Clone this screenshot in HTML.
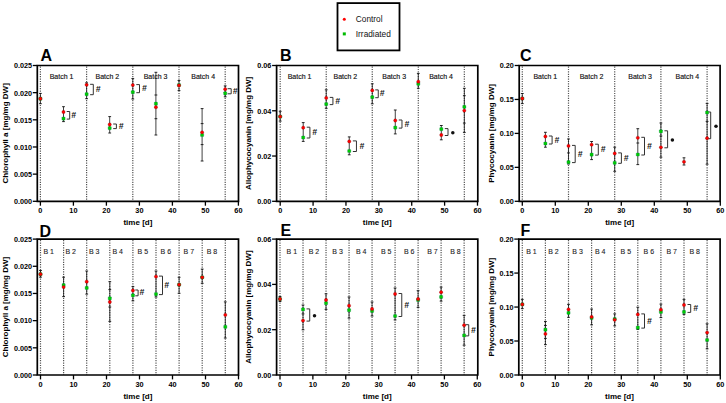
<!DOCTYPE html>
<html><head><meta charset="utf-8"><style>
html,body{margin:0;padding:0;background:#fff;}
svg{display:block;font-family:"Liberation Sans", sans-serif;}
</style></head><body>
<svg width="726" height="403" viewBox="0 0 726 403">
<rect width="726" height="403" fill="#fff"/>
<line x1="40.4" y1="66.5" x2="40.4" y2="201.3" stroke="#555" stroke-width="1.2" stroke-dasharray="1.2 1.2"/>
<line x1="86.6" y1="66.5" x2="86.6" y2="201.3" stroke="#555" stroke-width="1.2" stroke-dasharray="1.2 1.2"/>
<line x1="132.8" y1="66.5" x2="132.8" y2="201.3" stroke="#555" stroke-width="1.2" stroke-dasharray="1.2 1.2"/>
<line x1="179" y1="66.5" x2="179" y2="201.3" stroke="#555" stroke-width="1.2" stroke-dasharray="1.2 1.2"/>
<line x1="225.2" y1="66.5" x2="225.2" y2="201.3" stroke="#555" stroke-width="1.2" stroke-dasharray="1.2 1.2"/>
<text x="61.5" y="78.5" font-size="7" text-anchor="middle" fill="#111" stroke="#111" stroke-width="0.15">Batch 1</text>
<text x="107.4" y="78.5" font-size="7" text-anchor="middle" fill="#111" stroke="#111" stroke-width="0.15">Batch 2</text>
<text x="155.5" y="78.5" font-size="7" text-anchor="middle" fill="#111" stroke="#111" stroke-width="0.15">Batch 3</text>
<text x="203.2" y="78.5" font-size="7" text-anchor="middle" fill="#111" stroke="#111" stroke-width="0.15">Batch 4</text>
<path d="M37.3 65.5 H238.5 V201.3 H37.3 Z" fill="none" stroke="#000" stroke-width="1.7"/>
<line x1="32.8" y1="201.3" x2="37.3" y2="201.3" stroke="#000" stroke-width="1.3"/>
<text transform="translate(32 204.15) scale(0.93 1)" font-size="7.8" font-weight="bold" text-anchor="end">0.000</text>
<line x1="32.8" y1="174.14" x2="37.3" y2="174.14" stroke="#000" stroke-width="1.3"/>
<text transform="translate(32 176.99) scale(0.93 1)" font-size="7.8" font-weight="bold" text-anchor="end">0.005</text>
<line x1="32.8" y1="146.98" x2="37.3" y2="146.98" stroke="#000" stroke-width="1.3"/>
<text transform="translate(32 149.83) scale(0.93 1)" font-size="7.8" font-weight="bold" text-anchor="end">0.010</text>
<line x1="32.8" y1="119.82" x2="37.3" y2="119.82" stroke="#000" stroke-width="1.3"/>
<text transform="translate(32 122.67) scale(0.93 1)" font-size="7.8" font-weight="bold" text-anchor="end">0.015</text>
<line x1="32.8" y1="92.66" x2="37.3" y2="92.66" stroke="#000" stroke-width="1.3"/>
<text transform="translate(32 95.51) scale(0.93 1)" font-size="7.8" font-weight="bold" text-anchor="end">0.020</text>
<line x1="32.8" y1="65.5" x2="37.3" y2="65.5" stroke="#000" stroke-width="1.3"/>
<text transform="translate(32 68.35) scale(0.93 1)" font-size="7.8" font-weight="bold" text-anchor="end">0.025</text>
<line x1="40.4" y1="201.3" x2="40.4" y2="205.7" stroke="#000" stroke-width="1.3"/>
<text transform="translate(40.4 213.3) scale(0.93 1)" font-size="7.9" font-weight="bold" text-anchor="middle">0</text>
<line x1="73.4" y1="201.3" x2="73.4" y2="205.7" stroke="#000" stroke-width="1.3"/>
<text transform="translate(73.4 213.3) scale(0.93 1)" font-size="7.9" font-weight="bold" text-anchor="middle">10</text>
<line x1="106.4" y1="201.3" x2="106.4" y2="205.7" stroke="#000" stroke-width="1.3"/>
<text transform="translate(106.4 213.3) scale(0.93 1)" font-size="7.9" font-weight="bold" text-anchor="middle">20</text>
<line x1="139.4" y1="201.3" x2="139.4" y2="205.7" stroke="#000" stroke-width="1.3"/>
<text transform="translate(139.4 213.3) scale(0.93 1)" font-size="7.9" font-weight="bold" text-anchor="middle">30</text>
<line x1="172.4" y1="201.3" x2="172.4" y2="205.7" stroke="#000" stroke-width="1.3"/>
<text transform="translate(172.4 213.3) scale(0.93 1)" font-size="7.9" font-weight="bold" text-anchor="middle">40</text>
<line x1="205.4" y1="201.3" x2="205.4" y2="205.7" stroke="#000" stroke-width="1.3"/>
<text transform="translate(205.4 213.3) scale(0.93 1)" font-size="7.9" font-weight="bold" text-anchor="middle">50</text>
<line x1="238.4" y1="201.3" x2="238.4" y2="205.7" stroke="#000" stroke-width="1.3"/>
<text transform="translate(238.4 213.3) scale(0.93 1)" font-size="7.9" font-weight="bold" text-anchor="middle">60</text>
<text x="137.9" y="225.4" font-size="8" font-weight="bold" text-anchor="middle">time [d]</text>
<text transform="translate(8 133.4) rotate(-90)" font-size="8" font-weight="bold" text-anchor="middle">Chlorophyll a [mg/mg DW]</text>
<text x="40.5" y="61" font-size="16" font-weight="bold">A</text>
<line x1="40.4" y1="93.4" x2="40.4" y2="103.7" stroke="#111" stroke-width="0.8"/>
<line x1="39" y1="93.4" x2="41.8" y2="93.4" stroke="#111" stroke-width="0.9"/>
<line x1="39" y1="103.7" x2="41.8" y2="103.7" stroke="#111" stroke-width="0.9"/>
<rect x="38.8" y="97.1" width="3.2" height="3.2" rx="0.6" fill="#0c0" stroke="#075" stroke-width="0.3"/>
<circle cx="40.4" cy="98.7" r="1.65" fill="#f00" stroke="#700" stroke-width="0.3"/>
<line x1="63.5" y1="106.7" x2="63.5" y2="121.6" stroke="#111" stroke-width="0.8"/>
<line x1="62.1" y1="106.7" x2="64.9" y2="106.7" stroke="#111" stroke-width="0.9"/>
<line x1="62.1" y1="121.6" x2="64.9" y2="121.6" stroke="#111" stroke-width="0.9"/>
<rect x="61.9" y="117" width="3.2" height="3.2" rx="0.6" fill="#0c0" stroke="#075" stroke-width="0.3"/>
<circle cx="63.5" cy="112" r="1.65" fill="#f00" stroke="#700" stroke-width="0.3"/>
<path d="M66.7 111.5 H69.7 V119.1 H66.7" fill="none" stroke="#333" stroke-width="1.0"/>
<text x="73.7" y="117.8" font-size="8.5" font-weight="bold" font-style="italic" fill="#111" text-anchor="middle">#</text>
<line x1="86.6" y1="82.8" x2="86.6" y2="98.7" stroke="#111" stroke-width="0.8"/>
<line x1="85.2" y1="82.8" x2="88" y2="82.8" stroke="#111" stroke-width="0.9"/>
<line x1="85.2" y1="98.7" x2="88" y2="98.7" stroke="#111" stroke-width="0.9"/>
<rect x="85" y="92.6" width="3.2" height="3.2" rx="0.6" fill="#0c0" stroke="#075" stroke-width="0.3"/>
<circle cx="86.6" cy="84.8" r="1.65" fill="#f00" stroke="#700" stroke-width="0.3"/>
<path d="M90.1 84.3 H93.3 V94.7 H90.1" fill="none" stroke="#333" stroke-width="1.0"/>
<text x="98.1" y="92" font-size="8.5" font-weight="bold" font-style="italic" fill="#111" text-anchor="middle">#</text>
<line x1="109.7" y1="116.6" x2="109.7" y2="133" stroke="#111" stroke-width="0.8"/>
<line x1="108.3" y1="116.6" x2="111.1" y2="116.6" stroke="#111" stroke-width="0.9"/>
<line x1="108.3" y1="133" x2="111.1" y2="133" stroke="#111" stroke-width="0.9"/>
<rect x="108.1" y="126.5" width="3.2" height="3.2" rx="0.6" fill="#0c0" stroke="#075" stroke-width="0.3"/>
<circle cx="109.7" cy="124.5" r="1.65" fill="#f00" stroke="#700" stroke-width="0.3"/>
<path d="M113.2 124 H116.4 V128.6 H113.2" fill="none" stroke="#333" stroke-width="1.0"/>
<text x="121.2" y="128.8" font-size="8.5" font-weight="bold" font-style="italic" fill="#111" text-anchor="middle">#</text>
<line x1="132.8" y1="78.6" x2="132.8" y2="99" stroke="#111" stroke-width="0.8"/>
<line x1="131.4" y1="78.6" x2="134.2" y2="78.6" stroke="#111" stroke-width="0.9"/>
<line x1="131.4" y1="99" x2="134.2" y2="99" stroke="#111" stroke-width="0.9"/>
<rect x="131.2" y="90.6" width="3.2" height="3.2" rx="0.6" fill="#0c0" stroke="#075" stroke-width="0.3"/>
<circle cx="132.8" cy="85.1" r="1.65" fill="#f00" stroke="#700" stroke-width="0.3"/>
<path d="M136.3 84.6 H139.5 V92.7 H136.3" fill="none" stroke="#333" stroke-width="1.0"/>
<text x="144.3" y="91.15" font-size="8.5" font-weight="bold" font-style="italic" fill="#111" text-anchor="middle">#</text>
<line x1="155.9" y1="72.3" x2="155.9" y2="135" stroke="#111" stroke-width="0.8"/>
<line x1="154.5" y1="72.3" x2="157.3" y2="72.3" stroke="#111" stroke-width="0.9"/>
<line x1="154.5" y1="135" x2="157.3" y2="135" stroke="#111" stroke-width="0.9"/>
<line x1="154.5" y1="95" x2="157.3" y2="95" stroke="#111" stroke-width="0.9"/>
<line x1="154.5" y1="118.7" x2="157.3" y2="118.7" stroke="#111" stroke-width="0.9"/>
<rect x="154.3" y="102.1" width="3.2" height="3.2" rx="0.6" fill="#0c0" stroke="#075" stroke-width="0.3"/>
<circle cx="155.9" cy="107.2" r="1.65" fill="#f00" stroke="#700" stroke-width="0.3"/>
<line x1="179" y1="80.5" x2="179" y2="90.6" stroke="#111" stroke-width="0.8"/>
<line x1="177.6" y1="80.5" x2="180.4" y2="80.5" stroke="#111" stroke-width="0.9"/>
<line x1="177.6" y1="90.6" x2="180.4" y2="90.6" stroke="#111" stroke-width="0.9"/>
<rect x="177.4" y="83.4" width="3.2" height="3.2" rx="0.6" fill="#0c0" stroke="#075" stroke-width="0.3"/>
<circle cx="179" cy="85.4" r="1.65" fill="#f00" stroke="#700" stroke-width="0.3"/>
<line x1="202.1" y1="108.6" x2="202.1" y2="161" stroke="#111" stroke-width="0.8"/>
<line x1="200.7" y1="108.6" x2="203.5" y2="108.6" stroke="#111" stroke-width="0.9"/>
<line x1="200.7" y1="161" x2="203.5" y2="161" stroke="#111" stroke-width="0.9"/>
<line x1="200.7" y1="123.6" x2="203.5" y2="123.6" stroke="#111" stroke-width="0.9"/>
<line x1="200.7" y1="144.6" x2="203.5" y2="144.6" stroke="#111" stroke-width="0.9"/>
<rect x="200.5" y="133.4" width="3.2" height="3.2" rx="0.6" fill="#0c0" stroke="#075" stroke-width="0.3"/>
<circle cx="202.1" cy="132.3" r="1.65" fill="#f00" stroke="#700" stroke-width="0.3"/>
<line x1="225.2" y1="85.9" x2="225.2" y2="96.8" stroke="#111" stroke-width="0.8"/>
<line x1="223.8" y1="85.9" x2="226.6" y2="85.9" stroke="#111" stroke-width="0.9"/>
<line x1="223.8" y1="96.8" x2="226.6" y2="96.8" stroke="#111" stroke-width="0.9"/>
<rect x="223.6" y="91.7" width="3.2" height="3.2" rx="0.6" fill="#0c0" stroke="#075" stroke-width="0.3"/>
<circle cx="225.2" cy="89.2" r="1.65" fill="#f00" stroke="#700" stroke-width="0.3"/>
<path d="M227.6 88.7 H231.2 V93.8 H227.6" fill="none" stroke="#333" stroke-width="1.0"/>
<text x="235" y="93.75" font-size="8.5" font-weight="bold" font-style="italic" fill="#111" text-anchor="middle">#</text>
<line x1="280.2" y1="66.5" x2="280.2" y2="201.3" stroke="#555" stroke-width="1.2" stroke-dasharray="1.2 1.2"/>
<line x1="326.23" y1="66.5" x2="326.23" y2="201.3" stroke="#555" stroke-width="1.2" stroke-dasharray="1.2 1.2"/>
<line x1="372.26" y1="66.5" x2="372.26" y2="201.3" stroke="#555" stroke-width="1.2" stroke-dasharray="1.2 1.2"/>
<line x1="418.3" y1="66.5" x2="418.3" y2="201.3" stroke="#555" stroke-width="1.2" stroke-dasharray="1.2 1.2"/>
<line x1="464.33" y1="66.5" x2="464.33" y2="201.3" stroke="#555" stroke-width="1.2" stroke-dasharray="1.2 1.2"/>
<text x="299.5" y="78.5" font-size="7" text-anchor="middle" fill="#111" stroke="#111" stroke-width="0.15">Batch 1</text>
<text x="345.4" y="78.5" font-size="7" text-anchor="middle" fill="#111" stroke="#111" stroke-width="0.15">Batch 2</text>
<text x="394.2" y="78.5" font-size="7" text-anchor="middle" fill="#111" stroke="#111" stroke-width="0.15">Batch 3</text>
<text x="441" y="78.5" font-size="7" text-anchor="middle" fill="#111" stroke="#111" stroke-width="0.15">Batch 4</text>
<path d="M276.6 65.5 H477.8 V201.3 H276.6 Z" fill="none" stroke="#000" stroke-width="1.7"/>
<line x1="272.1" y1="201.3" x2="276.6" y2="201.3" stroke="#000" stroke-width="1.3"/>
<text transform="translate(271.3 204.15) scale(0.93 1)" font-size="7.8" font-weight="bold" text-anchor="end">0.00</text>
<line x1="272.1" y1="156.03" x2="276.6" y2="156.03" stroke="#000" stroke-width="1.3"/>
<text transform="translate(271.3 158.88) scale(0.93 1)" font-size="7.8" font-weight="bold" text-anchor="end">0.02</text>
<line x1="272.1" y1="110.77" x2="276.6" y2="110.77" stroke="#000" stroke-width="1.3"/>
<text transform="translate(271.3 113.62) scale(0.93 1)" font-size="7.8" font-weight="bold" text-anchor="end">0.04</text>
<line x1="272.1" y1="65.5" x2="276.6" y2="65.5" stroke="#000" stroke-width="1.3"/>
<text transform="translate(271.3 68.35) scale(0.93 1)" font-size="7.8" font-weight="bold" text-anchor="end">0.06</text>
<line x1="280.2" y1="201.3" x2="280.2" y2="205.7" stroke="#000" stroke-width="1.3"/>
<text transform="translate(280.2 213.3) scale(0.93 1)" font-size="7.9" font-weight="bold" text-anchor="middle">0</text>
<line x1="313.08" y1="201.3" x2="313.08" y2="205.7" stroke="#000" stroke-width="1.3"/>
<text transform="translate(313.08 213.3) scale(0.93 1)" font-size="7.9" font-weight="bold" text-anchor="middle">10</text>
<line x1="345.96" y1="201.3" x2="345.96" y2="205.7" stroke="#000" stroke-width="1.3"/>
<text transform="translate(345.96 213.3) scale(0.93 1)" font-size="7.9" font-weight="bold" text-anchor="middle">20</text>
<line x1="378.84" y1="201.3" x2="378.84" y2="205.7" stroke="#000" stroke-width="1.3"/>
<text transform="translate(378.84 213.3) scale(0.93 1)" font-size="7.9" font-weight="bold" text-anchor="middle">30</text>
<line x1="411.72" y1="201.3" x2="411.72" y2="205.7" stroke="#000" stroke-width="1.3"/>
<text transform="translate(411.72 213.3) scale(0.93 1)" font-size="7.9" font-weight="bold" text-anchor="middle">40</text>
<line x1="444.6" y1="201.3" x2="444.6" y2="205.7" stroke="#000" stroke-width="1.3"/>
<text transform="translate(444.6 213.3) scale(0.93 1)" font-size="7.9" font-weight="bold" text-anchor="middle">50</text>
<line x1="477.48" y1="201.3" x2="477.48" y2="205.7" stroke="#000" stroke-width="1.3"/>
<text transform="translate(477.48 213.3) scale(0.93 1)" font-size="7.9" font-weight="bold" text-anchor="middle">60</text>
<text x="377.2" y="225.4" font-size="8" font-weight="bold" text-anchor="middle">time [d]</text>
<text transform="translate(251.3 133.4) rotate(-90)" font-size="8" font-weight="bold" text-anchor="middle">Allophycocyanin [mg/mg DW]</text>
<text x="279.9" y="60.5" font-size="16" font-weight="bold">B</text>
<line x1="280.2" y1="111.3" x2="280.2" y2="121.1" stroke="#111" stroke-width="0.8"/>
<line x1="278.8" y1="111.3" x2="281.6" y2="111.3" stroke="#111" stroke-width="0.9"/>
<line x1="278.8" y1="121.1" x2="281.6" y2="121.1" stroke="#111" stroke-width="0.9"/>
<rect x="278.6" y="115" width="3.2" height="3.2" rx="0.6" fill="#0c0" stroke="#075" stroke-width="0.3"/>
<circle cx="280.2" cy="116.6" r="1.65" fill="#f00" stroke="#700" stroke-width="0.3"/>
<line x1="303.22" y1="122.6" x2="303.22" y2="141.4" stroke="#111" stroke-width="0.8"/>
<line x1="301.82" y1="122.6" x2="304.62" y2="122.6" stroke="#111" stroke-width="0.9"/>
<line x1="301.82" y1="141.4" x2="304.62" y2="141.4" stroke="#111" stroke-width="0.9"/>
<rect x="301.62" y="135.9" width="3.2" height="3.2" rx="0.6" fill="#0c0" stroke="#075" stroke-width="0.3"/>
<circle cx="303.22" cy="127.7" r="1.65" fill="#f00" stroke="#700" stroke-width="0.3"/>
<path d="M306.72 127.2 H309.92 V138 H306.72" fill="none" stroke="#333" stroke-width="1.0"/>
<text x="314.72" y="135.1" font-size="8.5" font-weight="bold" font-style="italic" fill="#111" text-anchor="middle">#</text>
<line x1="326.23" y1="89.8" x2="326.23" y2="108.3" stroke="#111" stroke-width="0.8"/>
<line x1="324.83" y1="89.8" x2="327.63" y2="89.8" stroke="#111" stroke-width="0.9"/>
<line x1="324.83" y1="108.3" x2="327.63" y2="108.3" stroke="#111" stroke-width="0.9"/>
<rect x="324.63" y="102.5" width="3.2" height="3.2" rx="0.6" fill="#0c0" stroke="#075" stroke-width="0.3"/>
<circle cx="326.23" cy="97.9" r="1.65" fill="#f00" stroke="#700" stroke-width="0.3"/>
<path d="M329.73 97.4 H332.93 V104.6 H329.73" fill="none" stroke="#333" stroke-width="1.0"/>
<text x="337.73" y="103.5" font-size="8.5" font-weight="bold" font-style="italic" fill="#111" text-anchor="middle">#</text>
<line x1="349.25" y1="136.9" x2="349.25" y2="154.8" stroke="#111" stroke-width="0.8"/>
<line x1="347.85" y1="136.9" x2="350.65" y2="136.9" stroke="#111" stroke-width="0.9"/>
<line x1="347.85" y1="154.8" x2="350.65" y2="154.8" stroke="#111" stroke-width="0.9"/>
<rect x="347.65" y="149.4" width="3.2" height="3.2" rx="0.6" fill="#0c0" stroke="#075" stroke-width="0.3"/>
<circle cx="349.25" cy="141.4" r="1.65" fill="#f00" stroke="#700" stroke-width="0.3"/>
<path d="M352.85 140.9 H356.45 V151.5 H352.85" fill="none" stroke="#333" stroke-width="1.0"/>
<text x="361.75" y="148.7" font-size="8.5" font-weight="bold" font-style="italic" fill="#111" text-anchor="middle">#</text>
<line x1="372.26" y1="83.8" x2="372.26" y2="103.8" stroke="#111" stroke-width="0.8"/>
<line x1="370.86" y1="83.8" x2="373.66" y2="83.8" stroke="#111" stroke-width="0.9"/>
<line x1="370.86" y1="103.8" x2="373.66" y2="103.8" stroke="#111" stroke-width="0.9"/>
<rect x="370.66" y="95.6" width="3.2" height="3.2" rx="0.6" fill="#0c0" stroke="#075" stroke-width="0.3"/>
<circle cx="372.26" cy="90.4" r="1.65" fill="#f00" stroke="#700" stroke-width="0.3"/>
<path d="M375.26 89.9 H378.26 V97.7 H375.26" fill="none" stroke="#333" stroke-width="1.0"/>
<text x="382.06" y="96.3" font-size="8.5" font-weight="bold" font-style="italic" fill="#111" text-anchor="middle">#</text>
<line x1="395.28" y1="110" x2="395.28" y2="133.9" stroke="#111" stroke-width="0.8"/>
<line x1="393.88" y1="110" x2="396.68" y2="110" stroke="#111" stroke-width="0.9"/>
<line x1="393.88" y1="133.9" x2="396.68" y2="133.9" stroke="#111" stroke-width="0.9"/>
<rect x="393.68" y="126" width="3.2" height="3.2" rx="0.6" fill="#0c0" stroke="#075" stroke-width="0.3"/>
<circle cx="395.28" cy="120.5" r="1.65" fill="#f00" stroke="#700" stroke-width="0.3"/>
<path d="M398.78 120 H401.98 V128.1 H398.78" fill="none" stroke="#333" stroke-width="1.0"/>
<text x="406.78" y="126.55" font-size="8.5" font-weight="bold" font-style="italic" fill="#111" text-anchor="middle">#</text>
<line x1="418.3" y1="73.4" x2="418.3" y2="88.3" stroke="#111" stroke-width="0.8"/>
<line x1="416.9" y1="73.4" x2="419.7" y2="73.4" stroke="#111" stroke-width="0.9"/>
<line x1="416.9" y1="88.3" x2="419.7" y2="88.3" stroke="#111" stroke-width="0.9"/>
<rect x="416.7" y="82.2" width="3.2" height="3.2" rx="0.6" fill="#0c0" stroke="#075" stroke-width="0.3"/>
<circle cx="418.3" cy="81.7" r="1.65" fill="#f00" stroke="#700" stroke-width="0.3"/>
<line x1="441.31" y1="125.5" x2="441.31" y2="139.8" stroke="#111" stroke-width="0.8"/>
<line x1="439.91" y1="125.5" x2="442.71" y2="125.5" stroke="#111" stroke-width="0.9"/>
<line x1="439.91" y1="139.8" x2="442.71" y2="139.8" stroke="#111" stroke-width="0.9"/>
<rect x="439.71" y="127.5" width="3.2" height="3.2" rx="0.6" fill="#0c0" stroke="#075" stroke-width="0.3"/>
<circle cx="441.31" cy="135" r="1.65" fill="#f00" stroke="#700" stroke-width="0.3"/>
<path d="M444.81 128.6 H448.01 V135.5 H444.81" fill="none" stroke="#333" stroke-width="1.0"/>
<circle cx="452.81" cy="132.85" r="1.75" fill="#111"/>
<line x1="464.33" y1="88.3" x2="464.33" y2="132.4" stroke="#111" stroke-width="0.8"/>
<line x1="462.93" y1="88.3" x2="465.73" y2="88.3" stroke="#111" stroke-width="0.9"/>
<line x1="462.93" y1="132.4" x2="465.73" y2="132.4" stroke="#111" stroke-width="0.9"/>
<line x1="462.93" y1="95.7" x2="465.73" y2="95.7" stroke="#111" stroke-width="0.9"/>
<line x1="462.93" y1="123.1" x2="465.73" y2="123.1" stroke="#111" stroke-width="0.9"/>
<rect x="462.73" y="105.2" width="3.2" height="3.2" rx="0.6" fill="#0c0" stroke="#075" stroke-width="0.3"/>
<circle cx="464.33" cy="110.6" r="1.65" fill="#f00" stroke="#700" stroke-width="0.3"/>
<line x1="522.3" y1="66.5" x2="522.3" y2="201.3" stroke="#555" stroke-width="1.2" stroke-dasharray="1.2 1.2"/>
<line x1="568.5" y1="66.5" x2="568.5" y2="201.3" stroke="#555" stroke-width="1.2" stroke-dasharray="1.2 1.2"/>
<line x1="614.7" y1="66.5" x2="614.7" y2="201.3" stroke="#555" stroke-width="1.2" stroke-dasharray="1.2 1.2"/>
<line x1="660.9" y1="66.5" x2="660.9" y2="201.3" stroke="#555" stroke-width="1.2" stroke-dasharray="1.2 1.2"/>
<line x1="707.1" y1="66.5" x2="707.1" y2="201.3" stroke="#555" stroke-width="1.2" stroke-dasharray="1.2 1.2"/>
<text x="545.3" y="78.5" font-size="7" text-anchor="middle" fill="#111" stroke="#111" stroke-width="0.15">Batch 1</text>
<text x="591.5" y="78.5" font-size="7" text-anchor="middle" fill="#111" stroke="#111" stroke-width="0.15">Batch 2</text>
<text x="640.1" y="78.5" font-size="7" text-anchor="middle" fill="#111" stroke="#111" stroke-width="0.15">Batch 3</text>
<text x="687.4" y="78.5" font-size="7" text-anchor="middle" fill="#111" stroke="#111" stroke-width="0.15">Batch 4</text>
<path d="M519.2 65.5 H720.1 V201.3 H519.2 Z" fill="none" stroke="#000" stroke-width="1.7"/>
<line x1="514.7" y1="201.3" x2="519.2" y2="201.3" stroke="#000" stroke-width="1.3"/>
<text transform="translate(513.9 204.15) scale(0.93 1)" font-size="7.8" font-weight="bold" text-anchor="end">0.00</text>
<line x1="514.7" y1="167.35" x2="519.2" y2="167.35" stroke="#000" stroke-width="1.3"/>
<text transform="translate(513.9 170.2) scale(0.93 1)" font-size="7.8" font-weight="bold" text-anchor="end">0.05</text>
<line x1="514.7" y1="133.4" x2="519.2" y2="133.4" stroke="#000" stroke-width="1.3"/>
<text transform="translate(513.9 136.25) scale(0.93 1)" font-size="7.8" font-weight="bold" text-anchor="end">0.10</text>
<line x1="514.7" y1="99.45" x2="519.2" y2="99.45" stroke="#000" stroke-width="1.3"/>
<text transform="translate(513.9 102.3) scale(0.93 1)" font-size="7.8" font-weight="bold" text-anchor="end">0.15</text>
<line x1="514.7" y1="65.5" x2="519.2" y2="65.5" stroke="#000" stroke-width="1.3"/>
<text transform="translate(513.9 68.35) scale(0.93 1)" font-size="7.8" font-weight="bold" text-anchor="end">0.20</text>
<line x1="522.3" y1="201.3" x2="522.3" y2="205.7" stroke="#000" stroke-width="1.3"/>
<text transform="translate(522.3 213.3) scale(0.93 1)" font-size="7.9" font-weight="bold" text-anchor="middle">0</text>
<line x1="555.3" y1="201.3" x2="555.3" y2="205.7" stroke="#000" stroke-width="1.3"/>
<text transform="translate(555.3 213.3) scale(0.93 1)" font-size="7.9" font-weight="bold" text-anchor="middle">10</text>
<line x1="588.3" y1="201.3" x2="588.3" y2="205.7" stroke="#000" stroke-width="1.3"/>
<text transform="translate(588.3 213.3) scale(0.93 1)" font-size="7.9" font-weight="bold" text-anchor="middle">20</text>
<line x1="621.3" y1="201.3" x2="621.3" y2="205.7" stroke="#000" stroke-width="1.3"/>
<text transform="translate(621.3 213.3) scale(0.93 1)" font-size="7.9" font-weight="bold" text-anchor="middle">30</text>
<line x1="654.3" y1="201.3" x2="654.3" y2="205.7" stroke="#000" stroke-width="1.3"/>
<text transform="translate(654.3 213.3) scale(0.93 1)" font-size="7.9" font-weight="bold" text-anchor="middle">40</text>
<line x1="687.3" y1="201.3" x2="687.3" y2="205.7" stroke="#000" stroke-width="1.3"/>
<text transform="translate(687.3 213.3) scale(0.93 1)" font-size="7.9" font-weight="bold" text-anchor="middle">50</text>
<line x1="720.3" y1="201.3" x2="720.3" y2="205.7" stroke="#000" stroke-width="1.3"/>
<text transform="translate(720.3 213.3) scale(0.93 1)" font-size="7.9" font-weight="bold" text-anchor="middle">60</text>
<text x="619.65" y="225.4" font-size="8" font-weight="bold" text-anchor="middle">time [d]</text>
<text transform="translate(493.5 133.4) rotate(-90)" font-size="8" font-weight="bold" text-anchor="middle">Phycocyanin [mg/mg DW]</text>
<text x="520" y="61" font-size="16" font-weight="bold">C</text>
<line x1="522.3" y1="93.5" x2="522.3" y2="103.6" stroke="#111" stroke-width="0.8"/>
<line x1="520.9" y1="93.5" x2="523.7" y2="93.5" stroke="#111" stroke-width="0.9"/>
<line x1="520.9" y1="103.6" x2="523.7" y2="103.6" stroke="#111" stroke-width="0.9"/>
<rect x="520.7" y="96.9" width="3.2" height="3.2" rx="0.6" fill="#0c0" stroke="#075" stroke-width="0.3"/>
<circle cx="522.3" cy="98.5" r="1.65" fill="#f00" stroke="#700" stroke-width="0.3"/>
<line x1="545.4" y1="132.3" x2="545.4" y2="147.2" stroke="#111" stroke-width="0.8"/>
<line x1="544" y1="132.3" x2="546.8" y2="132.3" stroke="#111" stroke-width="0.9"/>
<line x1="544" y1="147.2" x2="546.8" y2="147.2" stroke="#111" stroke-width="0.9"/>
<rect x="543.8" y="141.9" width="3.2" height="3.2" rx="0.6" fill="#0c0" stroke="#075" stroke-width="0.3"/>
<circle cx="545.4" cy="136.5" r="1.65" fill="#f00" stroke="#700" stroke-width="0.3"/>
<path d="M548.9 136 H552.1 V144 H548.9" fill="none" stroke="#333" stroke-width="1.0"/>
<text x="556.9" y="142.5" font-size="8.5" font-weight="bold" font-style="italic" fill="#111" text-anchor="middle">#</text>
<line x1="568.5" y1="139" x2="568.5" y2="164" stroke="#111" stroke-width="0.8"/>
<line x1="567.1" y1="139" x2="569.9" y2="139" stroke="#111" stroke-width="0.9"/>
<line x1="567.1" y1="164" x2="569.9" y2="164" stroke="#111" stroke-width="0.9"/>
<line x1="567.1" y1="152.9" x2="569.9" y2="152.9" stroke="#111" stroke-width="0.9"/>
<rect x="566.9" y="160.5" width="3.2" height="3.2" rx="0.6" fill="#0c0" stroke="#075" stroke-width="0.3"/>
<circle cx="568.5" cy="145.9" r="1.65" fill="#f00" stroke="#700" stroke-width="0.3"/>
<path d="M572 145.4 H575.2 V162.6 H572" fill="none" stroke="#333" stroke-width="1.0"/>
<text x="580" y="156.5" font-size="8.5" font-weight="bold" font-style="italic" fill="#111" text-anchor="middle">#</text>
<line x1="591.6" y1="141.5" x2="591.6" y2="159.6" stroke="#111" stroke-width="0.8"/>
<line x1="590.2" y1="141.5" x2="593" y2="141.5" stroke="#111" stroke-width="0.9"/>
<line x1="590.2" y1="159.6" x2="593" y2="159.6" stroke="#111" stroke-width="0.9"/>
<rect x="590" y="153" width="3.2" height="3.2" rx="0.6" fill="#0c0" stroke="#075" stroke-width="0.3"/>
<circle cx="591.6" cy="144.7" r="1.65" fill="#f00" stroke="#700" stroke-width="0.3"/>
<path d="M595.1 144.2 H598.3 V155.1 H595.1" fill="none" stroke="#333" stroke-width="1.0"/>
<text x="603.1" y="152.15" font-size="8.5" font-weight="bold" font-style="italic" fill="#111" text-anchor="middle">#</text>
<line x1="614.7" y1="147.2" x2="614.7" y2="171.3" stroke="#111" stroke-width="0.8"/>
<line x1="613.3" y1="147.2" x2="616.1" y2="147.2" stroke="#111" stroke-width="0.9"/>
<line x1="613.3" y1="171.3" x2="616.1" y2="171.3" stroke="#111" stroke-width="0.9"/>
<rect x="613.1" y="161.2" width="3.2" height="3.2" rx="0.6" fill="#0c0" stroke="#075" stroke-width="0.3"/>
<circle cx="614.7" cy="153.4" r="1.65" fill="#f00" stroke="#700" stroke-width="0.3"/>
<path d="M618.2 152.9 H621.4 V163.3 H618.2" fill="none" stroke="#333" stroke-width="1.0"/>
<text x="626.2" y="160.6" font-size="8.5" font-weight="bold" font-style="italic" fill="#111" text-anchor="middle">#</text>
<line x1="637.8" y1="128.7" x2="637.8" y2="164.6" stroke="#111" stroke-width="0.8"/>
<line x1="636.4" y1="128.7" x2="639.2" y2="128.7" stroke="#111" stroke-width="0.9"/>
<line x1="636.4" y1="164.6" x2="639.2" y2="164.6" stroke="#111" stroke-width="0.9"/>
<line x1="636.4" y1="143" x2="639.2" y2="143" stroke="#111" stroke-width="0.9"/>
<rect x="636.2" y="152.9" width="3.2" height="3.2" rx="0.6" fill="#0c0" stroke="#075" stroke-width="0.3"/>
<circle cx="637.8" cy="137.8" r="1.65" fill="#f00" stroke="#700" stroke-width="0.3"/>
<path d="M641.3 137.3 H644.5 V155 H641.3" fill="none" stroke="#333" stroke-width="1.0"/>
<text x="649.3" y="148.65" font-size="8.5" font-weight="bold" font-style="italic" fill="#111" text-anchor="middle">#</text>
<line x1="660.9" y1="123" x2="660.9" y2="157.2" stroke="#111" stroke-width="0.8"/>
<line x1="659.5" y1="123" x2="662.3" y2="123" stroke="#111" stroke-width="0.9"/>
<line x1="659.5" y1="157.2" x2="662.3" y2="157.2" stroke="#111" stroke-width="0.9"/>
<line x1="659.5" y1="136" x2="662.3" y2="136" stroke="#111" stroke-width="0.9"/>
<rect x="659.3" y="129.7" width="3.2" height="3.2" rx="0.6" fill="#0c0" stroke="#075" stroke-width="0.3"/>
<circle cx="660.9" cy="147.3" r="1.65" fill="#f00" stroke="#700" stroke-width="0.3"/>
<path d="M664.4 130.8 H667.6 V147.8 H664.4" fill="none" stroke="#333" stroke-width="1.0"/>
<circle cx="672.4" cy="140.1" r="1.75" fill="#111"/>
<line x1="684" y1="157.8" x2="684" y2="165" stroke="#111" stroke-width="0.8"/>
<line x1="682.6" y1="157.8" x2="685.4" y2="157.8" stroke="#111" stroke-width="0.9"/>
<line x1="682.6" y1="165" x2="685.4" y2="165" stroke="#111" stroke-width="0.9"/>
<circle cx="684" cy="161.8" r="1.65" fill="#f00" stroke="#700" stroke-width="0.3"/>
<line x1="707.1" y1="103.4" x2="707.1" y2="164.2" stroke="#111" stroke-width="0.8"/>
<line x1="705.7" y1="103.4" x2="708.5" y2="103.4" stroke="#111" stroke-width="0.9"/>
<line x1="705.7" y1="164.2" x2="708.5" y2="164.2" stroke="#111" stroke-width="0.9"/>
<line x1="705.7" y1="121.4" x2="708.5" y2="121.4" stroke="#111" stroke-width="0.9"/>
<rect x="705.5" y="110.9" width="3.2" height="3.2" rx="0.6" fill="#0c0" stroke="#075" stroke-width="0.3"/>
<circle cx="707.1" cy="138.2" r="1.65" fill="#f00" stroke="#700" stroke-width="0.3"/>
<path d="M708.6 112 H710.7 V138.7 H708.6" fill="none" stroke="#333" stroke-width="1.0"/>
<circle cx="716" cy="126.15" r="1.75" fill="#111"/>
<line x1="40.5" y1="240.1" x2="40.5" y2="375" stroke="#555" stroke-width="1.2" stroke-dasharray="1.2 1.2"/>
<line x1="63.6" y1="240.1" x2="63.6" y2="375" stroke="#555" stroke-width="1.2" stroke-dasharray="1.2 1.2"/>
<line x1="86.7" y1="240.1" x2="86.7" y2="375" stroke="#555" stroke-width="1.2" stroke-dasharray="1.2 1.2"/>
<line x1="109.8" y1="240.1" x2="109.8" y2="375" stroke="#555" stroke-width="1.2" stroke-dasharray="1.2 1.2"/>
<line x1="132.9" y1="240.1" x2="132.9" y2="375" stroke="#555" stroke-width="1.2" stroke-dasharray="1.2 1.2"/>
<line x1="156" y1="240.1" x2="156" y2="375" stroke="#555" stroke-width="1.2" stroke-dasharray="1.2 1.2"/>
<line x1="179.1" y1="240.1" x2="179.1" y2="375" stroke="#555" stroke-width="1.2" stroke-dasharray="1.2 1.2"/>
<line x1="202.2" y1="240.1" x2="202.2" y2="375" stroke="#555" stroke-width="1.2" stroke-dasharray="1.2 1.2"/>
<line x1="225.3" y1="240.1" x2="225.3" y2="375" stroke="#555" stroke-width="1.2" stroke-dasharray="1.2 1.2"/>
<text x="43.5" y="254.1" font-size="7" fill="#222" stroke="#222" stroke-width="0.1" >B 1</text>
<text x="65.5" y="254.1" font-size="7" fill="#222" stroke="#222" stroke-width="0.1" >B 2</text>
<text x="88.9" y="254.1" font-size="7" fill="#222" stroke="#222" stroke-width="0.1" >B 3</text>
<text x="112.4" y="254.1" font-size="7" fill="#222" stroke="#222" stroke-width="0.1" >B 4</text>
<text x="137.6" y="254.1" font-size="7" fill="#222" stroke="#222" stroke-width="0.1" >B 5</text>
<text x="160.6" y="254.1" font-size="7" fill="#222" stroke="#222" stroke-width="0.1" >B 6</text>
<text x="183.6" y="254.1" font-size="7" fill="#222" stroke="#222" stroke-width="0.1" >B 7</text>
<text x="206.7" y="254.1" font-size="7" fill="#222" stroke="#222" stroke-width="0.1" >B 8</text>
<path d="M37.3 239.1 H238.5 V375 H37.3 Z" fill="none" stroke="#000" stroke-width="1.7"/>
<line x1="32.8" y1="375" x2="37.3" y2="375" stroke="#000" stroke-width="1.3"/>
<text transform="translate(32 377.85) scale(0.93 1)" font-size="7.8" font-weight="bold" text-anchor="end">0.000</text>
<line x1="32.8" y1="347.82" x2="37.3" y2="347.82" stroke="#000" stroke-width="1.3"/>
<text transform="translate(32 350.67) scale(0.93 1)" font-size="7.8" font-weight="bold" text-anchor="end">0.005</text>
<line x1="32.8" y1="320.64" x2="37.3" y2="320.64" stroke="#000" stroke-width="1.3"/>
<text transform="translate(32 323.49) scale(0.93 1)" font-size="7.8" font-weight="bold" text-anchor="end">0.010</text>
<line x1="32.8" y1="293.46" x2="37.3" y2="293.46" stroke="#000" stroke-width="1.3"/>
<text transform="translate(32 296.31) scale(0.93 1)" font-size="7.8" font-weight="bold" text-anchor="end">0.015</text>
<line x1="32.8" y1="266.28" x2="37.3" y2="266.28" stroke="#000" stroke-width="1.3"/>
<text transform="translate(32 269.13) scale(0.93 1)" font-size="7.8" font-weight="bold" text-anchor="end">0.020</text>
<line x1="32.8" y1="239.1" x2="37.3" y2="239.1" stroke="#000" stroke-width="1.3"/>
<text transform="translate(32 241.95) scale(0.93 1)" font-size="7.8" font-weight="bold" text-anchor="end">0.025</text>
<line x1="40.5" y1="375" x2="40.5" y2="379.4" stroke="#000" stroke-width="1.3"/>
<text transform="translate(40.5 387) scale(0.93 1)" font-size="7.9" font-weight="bold" text-anchor="middle">0</text>
<line x1="73.5" y1="375" x2="73.5" y2="379.4" stroke="#000" stroke-width="1.3"/>
<text transform="translate(73.5 387) scale(0.93 1)" font-size="7.9" font-weight="bold" text-anchor="middle">10</text>
<line x1="106.5" y1="375" x2="106.5" y2="379.4" stroke="#000" stroke-width="1.3"/>
<text transform="translate(106.5 387) scale(0.93 1)" font-size="7.9" font-weight="bold" text-anchor="middle">20</text>
<line x1="139.5" y1="375" x2="139.5" y2="379.4" stroke="#000" stroke-width="1.3"/>
<text transform="translate(139.5 387) scale(0.93 1)" font-size="7.9" font-weight="bold" text-anchor="middle">30</text>
<line x1="172.5" y1="375" x2="172.5" y2="379.4" stroke="#000" stroke-width="1.3"/>
<text transform="translate(172.5 387) scale(0.93 1)" font-size="7.9" font-weight="bold" text-anchor="middle">40</text>
<line x1="205.5" y1="375" x2="205.5" y2="379.4" stroke="#000" stroke-width="1.3"/>
<text transform="translate(205.5 387) scale(0.93 1)" font-size="7.9" font-weight="bold" text-anchor="middle">50</text>
<line x1="238.5" y1="375" x2="238.5" y2="379.4" stroke="#000" stroke-width="1.3"/>
<text transform="translate(238.5 387) scale(0.93 1)" font-size="7.9" font-weight="bold" text-anchor="middle">60</text>
<text x="137.9" y="399.1" font-size="8" font-weight="bold" text-anchor="middle">time [d]</text>
<text transform="translate(8 307.05) rotate(-90)" font-size="8" font-weight="bold" text-anchor="middle">Chlorophyll a [mg/mg DW]</text>
<text x="39.4" y="236.5" font-size="16" font-weight="bold">D</text>
<line x1="40.5" y1="270.5" x2="40.5" y2="277.2" stroke="#111" stroke-width="0.8"/>
<line x1="39.1" y1="270.5" x2="41.9" y2="270.5" stroke="#111" stroke-width="0.9"/>
<line x1="39.1" y1="277.2" x2="41.9" y2="277.2" stroke="#111" stroke-width="0.9"/>
<rect x="38.9" y="272.6" width="3.2" height="3.2" rx="0.6" fill="#0c0" stroke="#075" stroke-width="0.3"/>
<circle cx="40.5" cy="274.2" r="1.65" fill="#f00" stroke="#700" stroke-width="0.3"/>
<line x1="63.6" y1="277.2" x2="63.6" y2="296.6" stroke="#111" stroke-width="0.8"/>
<line x1="62.2" y1="277.2" x2="65" y2="277.2" stroke="#111" stroke-width="0.9"/>
<line x1="62.2" y1="296.6" x2="65" y2="296.6" stroke="#111" stroke-width="0.9"/>
<rect x="62" y="283.5" width="3.2" height="3.2" rx="0.6" fill="#0c0" stroke="#075" stroke-width="0.3"/>
<circle cx="63.6" cy="287.1" r="1.65" fill="#f00" stroke="#700" stroke-width="0.3"/>
<line x1="86.7" y1="271" x2="86.7" y2="294.1" stroke="#111" stroke-width="0.8"/>
<line x1="85.3" y1="271" x2="88.1" y2="271" stroke="#111" stroke-width="0.9"/>
<line x1="85.3" y1="294.1" x2="88.1" y2="294.1" stroke="#111" stroke-width="0.9"/>
<rect x="85.1" y="286.3" width="3.2" height="3.2" rx="0.6" fill="#0c0" stroke="#075" stroke-width="0.3"/>
<circle cx="86.7" cy="281.7" r="1.65" fill="#f00" stroke="#700" stroke-width="0.3"/>
<line x1="109.8" y1="281.7" x2="109.8" y2="321.4" stroke="#111" stroke-width="0.8"/>
<line x1="108.4" y1="281.7" x2="111.2" y2="281.7" stroke="#111" stroke-width="0.9"/>
<line x1="108.4" y1="321.4" x2="111.2" y2="321.4" stroke="#111" stroke-width="0.9"/>
<line x1="108.4" y1="289.6" x2="111.2" y2="289.6" stroke="#111" stroke-width="0.9"/>
<line x1="108.4" y1="307" x2="111.2" y2="307" stroke="#111" stroke-width="0.9"/>
<rect x="108.2" y="296.7" width="3.2" height="3.2" rx="0.6" fill="#0c0" stroke="#075" stroke-width="0.3"/>
<circle cx="109.8" cy="302" r="1.65" fill="#f00" stroke="#700" stroke-width="0.3"/>
<line x1="132.9" y1="286.6" x2="132.9" y2="300.8" stroke="#111" stroke-width="0.8"/>
<line x1="131.5" y1="286.6" x2="134.3" y2="286.6" stroke="#111" stroke-width="0.9"/>
<line x1="131.5" y1="300.8" x2="134.3" y2="300.8" stroke="#111" stroke-width="0.9"/>
<rect x="131.3" y="293.7" width="3.2" height="3.2" rx="0.6" fill="#0c0" stroke="#075" stroke-width="0.3"/>
<circle cx="132.9" cy="290.5" r="1.65" fill="#f00" stroke="#700" stroke-width="0.3"/>
<path d="M135.3 290 H138.1 V295.8 H135.3" fill="none" stroke="#333" stroke-width="1.0"/>
<text x="141.9" y="295.4" font-size="8.5" font-weight="bold" font-style="italic" fill="#111" text-anchor="middle">#</text>
<line x1="156" y1="271" x2="156" y2="297" stroke="#111" stroke-width="0.8"/>
<line x1="154.6" y1="271" x2="157.4" y2="271" stroke="#111" stroke-width="0.9"/>
<line x1="154.6" y1="297" x2="157.4" y2="297" stroke="#111" stroke-width="0.9"/>
<rect x="154.4" y="292.5" width="3.2" height="3.2" rx="0.6" fill="#0c0" stroke="#075" stroke-width="0.3"/>
<circle cx="156" cy="276.6" r="1.65" fill="#f00" stroke="#700" stroke-width="0.3"/>
<path d="M159 276.1 H162.5 V294.6 H159" fill="none" stroke="#333" stroke-width="1.0"/>
<text x="166.5" y="287.85" font-size="8.5" font-weight="bold" font-style="italic" fill="#111" text-anchor="middle">#</text>
<line x1="179.1" y1="277.3" x2="179.1" y2="293.3" stroke="#111" stroke-width="0.8"/>
<line x1="177.7" y1="277.3" x2="180.5" y2="277.3" stroke="#111" stroke-width="0.9"/>
<line x1="177.7" y1="293.3" x2="180.5" y2="293.3" stroke="#111" stroke-width="0.9"/>
<rect x="177.5" y="283.1" width="3.2" height="3.2" rx="0.6" fill="#0c0" stroke="#075" stroke-width="0.3"/>
<circle cx="179.1" cy="284.7" r="1.65" fill="#f00" stroke="#700" stroke-width="0.3"/>
<line x1="202.2" y1="269.1" x2="202.2" y2="283.3" stroke="#111" stroke-width="0.8"/>
<line x1="200.8" y1="269.1" x2="203.6" y2="269.1" stroke="#111" stroke-width="0.9"/>
<line x1="200.8" y1="283.3" x2="203.6" y2="283.3" stroke="#111" stroke-width="0.9"/>
<rect x="200.6" y="275.7" width="3.2" height="3.2" rx="0.6" fill="#0c0" stroke="#075" stroke-width="0.3"/>
<circle cx="202.2" cy="277.3" r="1.65" fill="#f00" stroke="#700" stroke-width="0.3"/>
<line x1="225.3" y1="301.9" x2="225.3" y2="338" stroke="#111" stroke-width="0.8"/>
<line x1="223.9" y1="301.9" x2="226.7" y2="301.9" stroke="#111" stroke-width="0.9"/>
<line x1="223.9" y1="338" x2="226.7" y2="338" stroke="#111" stroke-width="0.9"/>
<rect x="223.7" y="325.2" width="3.2" height="3.2" rx="0.6" fill="#0c0" stroke="#075" stroke-width="0.3"/>
<circle cx="225.3" cy="314.9" r="1.65" fill="#f00" stroke="#700" stroke-width="0.3"/>
<line x1="280" y1="240.1" x2="280" y2="375" stroke="#555" stroke-width="1.2" stroke-dasharray="1.2 1.2"/>
<line x1="303.02" y1="240.1" x2="303.02" y2="375" stroke="#555" stroke-width="1.2" stroke-dasharray="1.2 1.2"/>
<line x1="326.03" y1="240.1" x2="326.03" y2="375" stroke="#555" stroke-width="1.2" stroke-dasharray="1.2 1.2"/>
<line x1="349.05" y1="240.1" x2="349.05" y2="375" stroke="#555" stroke-width="1.2" stroke-dasharray="1.2 1.2"/>
<line x1="372.06" y1="240.1" x2="372.06" y2="375" stroke="#555" stroke-width="1.2" stroke-dasharray="1.2 1.2"/>
<line x1="395.08" y1="240.1" x2="395.08" y2="375" stroke="#555" stroke-width="1.2" stroke-dasharray="1.2 1.2"/>
<line x1="418.1" y1="240.1" x2="418.1" y2="375" stroke="#555" stroke-width="1.2" stroke-dasharray="1.2 1.2"/>
<line x1="441.11" y1="240.1" x2="441.11" y2="375" stroke="#555" stroke-width="1.2" stroke-dasharray="1.2 1.2"/>
<line x1="464.13" y1="240.1" x2="464.13" y2="375" stroke="#555" stroke-width="1.2" stroke-dasharray="1.2 1.2"/>
<text x="286.6" y="254.1" font-size="7" fill="#222" stroke="#222" stroke-width="0.1" >B 1</text>
<text x="308.7" y="254.1" font-size="7" fill="#222" stroke="#222" stroke-width="0.1" >B 2</text>
<text x="332.3" y="254.1" font-size="7" fill="#222" stroke="#222" stroke-width="0.1" >B 3</text>
<text x="355.9" y="254.1" font-size="7" fill="#222" stroke="#222" stroke-width="0.1" >B 4</text>
<text x="380.9" y="254.1" font-size="7" fill="#222" stroke="#222" stroke-width="0.1" >B 5</text>
<text x="404" y="254.1" font-size="7" fill="#222" stroke="#222" stroke-width="0.1" >B 6</text>
<text x="427.2" y="254.1" font-size="7" fill="#222" stroke="#222" stroke-width="0.1" >B 7</text>
<text x="450.2" y="254.1" font-size="7" fill="#222" stroke="#222" stroke-width="0.1" >B 8</text>
<path d="M276.6 239.1 H477.8 V375 H276.6 Z" fill="none" stroke="#000" stroke-width="1.7"/>
<line x1="272.1" y1="375" x2="276.6" y2="375" stroke="#000" stroke-width="1.3"/>
<text transform="translate(271.3 377.85) scale(0.93 1)" font-size="7.8" font-weight="bold" text-anchor="end">0.00</text>
<line x1="272.1" y1="329.7" x2="276.6" y2="329.7" stroke="#000" stroke-width="1.3"/>
<text transform="translate(271.3 332.55) scale(0.93 1)" font-size="7.8" font-weight="bold" text-anchor="end">0.02</text>
<line x1="272.1" y1="284.4" x2="276.6" y2="284.4" stroke="#000" stroke-width="1.3"/>
<text transform="translate(271.3 287.25) scale(0.93 1)" font-size="7.8" font-weight="bold" text-anchor="end">0.04</text>
<line x1="272.1" y1="239.1" x2="276.6" y2="239.1" stroke="#000" stroke-width="1.3"/>
<text transform="translate(271.3 241.95) scale(0.93 1)" font-size="7.8" font-weight="bold" text-anchor="end">0.06</text>
<line x1="280" y1="375" x2="280" y2="379.4" stroke="#000" stroke-width="1.3"/>
<text transform="translate(280 387) scale(0.93 1)" font-size="7.9" font-weight="bold" text-anchor="middle">0</text>
<line x1="312.88" y1="375" x2="312.88" y2="379.4" stroke="#000" stroke-width="1.3"/>
<text transform="translate(312.88 387) scale(0.93 1)" font-size="7.9" font-weight="bold" text-anchor="middle">10</text>
<line x1="345.76" y1="375" x2="345.76" y2="379.4" stroke="#000" stroke-width="1.3"/>
<text transform="translate(345.76 387) scale(0.93 1)" font-size="7.9" font-weight="bold" text-anchor="middle">20</text>
<line x1="378.64" y1="375" x2="378.64" y2="379.4" stroke="#000" stroke-width="1.3"/>
<text transform="translate(378.64 387) scale(0.93 1)" font-size="7.9" font-weight="bold" text-anchor="middle">30</text>
<line x1="411.52" y1="375" x2="411.52" y2="379.4" stroke="#000" stroke-width="1.3"/>
<text transform="translate(411.52 387) scale(0.93 1)" font-size="7.9" font-weight="bold" text-anchor="middle">40</text>
<line x1="444.4" y1="375" x2="444.4" y2="379.4" stroke="#000" stroke-width="1.3"/>
<text transform="translate(444.4 387) scale(0.93 1)" font-size="7.9" font-weight="bold" text-anchor="middle">50</text>
<line x1="477.28" y1="375" x2="477.28" y2="379.4" stroke="#000" stroke-width="1.3"/>
<text transform="translate(477.28 387) scale(0.93 1)" font-size="7.9" font-weight="bold" text-anchor="middle">60</text>
<text x="377.2" y="399.1" font-size="8" font-weight="bold" text-anchor="middle">time [d]</text>
<text transform="translate(251.3 307.05) rotate(-90)" font-size="8" font-weight="bold" text-anchor="middle">Allophycocyanin [mg/mg DW]</text>
<text x="280.5" y="236.3" font-size="16" font-weight="bold">E</text>
<line x1="280" y1="296.5" x2="280" y2="301.5" stroke="#111" stroke-width="0.8"/>
<line x1="278.6" y1="296.5" x2="281.4" y2="296.5" stroke="#111" stroke-width="0.9"/>
<line x1="278.6" y1="301.5" x2="281.4" y2="301.5" stroke="#111" stroke-width="0.9"/>
<rect x="278.4" y="297.4" width="3.2" height="3.2" rx="0.6" fill="#0c0" stroke="#075" stroke-width="0.3"/>
<circle cx="280" cy="299" r="1.65" fill="#f00" stroke="#700" stroke-width="0.3"/>
<line x1="303.02" y1="305" x2="303.02" y2="329.8" stroke="#111" stroke-width="0.8"/>
<line x1="301.62" y1="305" x2="304.42" y2="305" stroke="#111" stroke-width="0.9"/>
<line x1="301.62" y1="329.8" x2="304.42" y2="329.8" stroke="#111" stroke-width="0.9"/>
<line x1="301.62" y1="313.9" x2="304.42" y2="313.9" stroke="#111" stroke-width="0.9"/>
<rect x="301.42" y="307.8" width="3.2" height="3.2" rx="0.6" fill="#0c0" stroke="#075" stroke-width="0.3"/>
<circle cx="303.02" cy="320.6" r="1.65" fill="#f00" stroke="#700" stroke-width="0.3"/>
<path d="M306.52 308.9 H309.72 V321.1 H306.52" fill="none" stroke="#333" stroke-width="1.0"/>
<circle cx="314.52" cy="315.8" r="1.75" fill="#111"/>
<line x1="326.03" y1="293.8" x2="326.03" y2="309.4" stroke="#111" stroke-width="0.8"/>
<line x1="324.63" y1="293.8" x2="327.43" y2="293.8" stroke="#111" stroke-width="0.9"/>
<line x1="324.63" y1="309.4" x2="327.43" y2="309.4" stroke="#111" stroke-width="0.9"/>
<rect x="324.43" y="301.6" width="3.2" height="3.2" rx="0.6" fill="#0c0" stroke="#075" stroke-width="0.3"/>
<circle cx="326.03" cy="300" r="1.65" fill="#f00" stroke="#700" stroke-width="0.3"/>
<line x1="349.05" y1="297" x2="349.05" y2="318.1" stroke="#111" stroke-width="0.8"/>
<line x1="347.65" y1="297" x2="350.45" y2="297" stroke="#111" stroke-width="0.9"/>
<line x1="347.65" y1="318.1" x2="350.45" y2="318.1" stroke="#111" stroke-width="0.9"/>
<rect x="347.45" y="308.6" width="3.2" height="3.2" rx="0.6" fill="#0c0" stroke="#075" stroke-width="0.3"/>
<circle cx="349.05" cy="305.7" r="1.65" fill="#f00" stroke="#700" stroke-width="0.3"/>
<line x1="372.06" y1="302" x2="372.06" y2="316" stroke="#111" stroke-width="0.8"/>
<line x1="370.66" y1="302" x2="373.46" y2="302" stroke="#111" stroke-width="0.9"/>
<line x1="370.66" y1="316" x2="373.46" y2="316" stroke="#111" stroke-width="0.9"/>
<rect x="370.46" y="309.4" width="3.2" height="3.2" rx="0.6" fill="#0c0" stroke="#075" stroke-width="0.3"/>
<circle cx="372.06" cy="308.9" r="1.65" fill="#f00" stroke="#700" stroke-width="0.3"/>
<line x1="395.08" y1="288" x2="395.08" y2="319.9" stroke="#111" stroke-width="0.8"/>
<line x1="393.68" y1="288" x2="396.48" y2="288" stroke="#111" stroke-width="0.9"/>
<line x1="393.68" y1="319.9" x2="396.48" y2="319.9" stroke="#111" stroke-width="0.9"/>
<rect x="393.48" y="314.4" width="3.2" height="3.2" rx="0.6" fill="#0c0" stroke="#075" stroke-width="0.3"/>
<circle cx="395.08" cy="294" r="1.65" fill="#f00" stroke="#700" stroke-width="0.3"/>
<path d="M398.58 293.5 H401.78 V316.5 H398.58" fill="none" stroke="#333" stroke-width="1.0"/>
<text x="406.58" y="307.5" font-size="8.5" font-weight="bold" font-style="italic" fill="#111" text-anchor="middle">#</text>
<line x1="418.1" y1="290.7" x2="418.1" y2="307.4" stroke="#111" stroke-width="0.8"/>
<line x1="416.7" y1="290.7" x2="419.5" y2="290.7" stroke="#111" stroke-width="0.9"/>
<line x1="416.7" y1="307.4" x2="419.5" y2="307.4" stroke="#111" stroke-width="0.9"/>
<rect x="416.5" y="298.4" width="3.2" height="3.2" rx="0.6" fill="#0c0" stroke="#075" stroke-width="0.3"/>
<circle cx="418.1" cy="299" r="1.65" fill="#f00" stroke="#700" stroke-width="0.3"/>
<line x1="441.11" y1="287.1" x2="441.11" y2="301.1" stroke="#111" stroke-width="0.8"/>
<line x1="439.71" y1="287.1" x2="442.51" y2="287.1" stroke="#111" stroke-width="0.9"/>
<line x1="439.71" y1="301.1" x2="442.51" y2="301.1" stroke="#111" stroke-width="0.9"/>
<rect x="439.51" y="295.3" width="3.2" height="3.2" rx="0.6" fill="#0c0" stroke="#075" stroke-width="0.3"/>
<circle cx="441.11" cy="292.2" r="1.65" fill="#f00" stroke="#700" stroke-width="0.3"/>
<line x1="464.13" y1="315.4" x2="464.13" y2="345.2" stroke="#111" stroke-width="0.8"/>
<line x1="462.73" y1="315.4" x2="465.53" y2="315.4" stroke="#111" stroke-width="0.9"/>
<line x1="462.73" y1="345.2" x2="465.53" y2="345.2" stroke="#111" stroke-width="0.9"/>
<rect x="462.53" y="333.8" width="3.2" height="3.2" rx="0.6" fill="#0c0" stroke="#075" stroke-width="0.3"/>
<circle cx="464.13" cy="325.2" r="1.65" fill="#f00" stroke="#700" stroke-width="0.3"/>
<path d="M465.63 324.7 H468.73 V335.9 H465.63" fill="none" stroke="#333" stroke-width="1.0"/>
<text x="473.43" y="332.8" font-size="8.5" font-weight="bold" font-style="italic" fill="#111" text-anchor="middle">#</text>
<line x1="522.3" y1="240.1" x2="522.3" y2="375" stroke="#555" stroke-width="1.2" stroke-dasharray="1.2 1.2"/>
<line x1="545.4" y1="240.1" x2="545.4" y2="375" stroke="#555" stroke-width="1.2" stroke-dasharray="1.2 1.2"/>
<line x1="568.5" y1="240.1" x2="568.5" y2="375" stroke="#555" stroke-width="1.2" stroke-dasharray="1.2 1.2"/>
<line x1="591.6" y1="240.1" x2="591.6" y2="375" stroke="#555" stroke-width="1.2" stroke-dasharray="1.2 1.2"/>
<line x1="614.7" y1="240.1" x2="614.7" y2="375" stroke="#555" stroke-width="1.2" stroke-dasharray="1.2 1.2"/>
<line x1="637.8" y1="240.1" x2="637.8" y2="375" stroke="#555" stroke-width="1.2" stroke-dasharray="1.2 1.2"/>
<line x1="660.9" y1="240.1" x2="660.9" y2="375" stroke="#555" stroke-width="1.2" stroke-dasharray="1.2 1.2"/>
<line x1="684" y1="240.1" x2="684" y2="375" stroke="#555" stroke-width="1.2" stroke-dasharray="1.2 1.2"/>
<line x1="707.1" y1="240.1" x2="707.1" y2="375" stroke="#555" stroke-width="1.2" stroke-dasharray="1.2 1.2"/>
<text x="526.2" y="254.1" font-size="7" fill="#222" stroke="#222" stroke-width="0.1" >B 1</text>
<text x="548.2" y="254.1" font-size="7" fill="#222" stroke="#222" stroke-width="0.1" >B 2</text>
<text x="572.3" y="254.1" font-size="7" fill="#222" stroke="#222" stroke-width="0.1" >B 3</text>
<text x="595" y="254.1" font-size="7" fill="#222" stroke="#222" stroke-width="0.1" >B 4</text>
<text x="620.6" y="254.1" font-size="7" fill="#222" stroke="#222" stroke-width="0.1" >B 5</text>
<text x="643.6" y="254.1" font-size="7" fill="#222" stroke="#222" stroke-width="0.1" >B 6</text>
<text x="666.4" y="254.1" font-size="7" fill="#222" stroke="#222" stroke-width="0.1" >B 7</text>
<text x="689.4" y="254.1" font-size="7" fill="#222" stroke="#222" stroke-width="0.1" >B 8</text>
<path d="M518.8 239.1 H720.1 V375 H518.8 Z" fill="none" stroke="#000" stroke-width="1.7"/>
<line x1="514.3" y1="375" x2="518.8" y2="375" stroke="#000" stroke-width="1.3"/>
<text transform="translate(513.5 377.85) scale(0.93 1)" font-size="7.8" font-weight="bold" text-anchor="end">0.00</text>
<line x1="514.3" y1="341.02" x2="518.8" y2="341.02" stroke="#000" stroke-width="1.3"/>
<text transform="translate(513.5 343.88) scale(0.93 1)" font-size="7.8" font-weight="bold" text-anchor="end">0.05</text>
<line x1="514.3" y1="307.05" x2="518.8" y2="307.05" stroke="#000" stroke-width="1.3"/>
<text transform="translate(513.5 309.9) scale(0.93 1)" font-size="7.8" font-weight="bold" text-anchor="end">0.10</text>
<line x1="514.3" y1="273.07" x2="518.8" y2="273.07" stroke="#000" stroke-width="1.3"/>
<text transform="translate(513.5 275.93) scale(0.93 1)" font-size="7.8" font-weight="bold" text-anchor="end">0.15</text>
<line x1="514.3" y1="239.1" x2="518.8" y2="239.1" stroke="#000" stroke-width="1.3"/>
<text transform="translate(513.5 241.95) scale(0.93 1)" font-size="7.8" font-weight="bold" text-anchor="end">0.20</text>
<line x1="522.3" y1="375" x2="522.3" y2="379.4" stroke="#000" stroke-width="1.3"/>
<text transform="translate(522.3 387) scale(0.93 1)" font-size="7.9" font-weight="bold" text-anchor="middle">0</text>
<line x1="555.3" y1="375" x2="555.3" y2="379.4" stroke="#000" stroke-width="1.3"/>
<text transform="translate(555.3 387) scale(0.93 1)" font-size="7.9" font-weight="bold" text-anchor="middle">10</text>
<line x1="588.3" y1="375" x2="588.3" y2="379.4" stroke="#000" stroke-width="1.3"/>
<text transform="translate(588.3 387) scale(0.93 1)" font-size="7.9" font-weight="bold" text-anchor="middle">20</text>
<line x1="621.3" y1="375" x2="621.3" y2="379.4" stroke="#000" stroke-width="1.3"/>
<text transform="translate(621.3 387) scale(0.93 1)" font-size="7.9" font-weight="bold" text-anchor="middle">30</text>
<line x1="654.3" y1="375" x2="654.3" y2="379.4" stroke="#000" stroke-width="1.3"/>
<text transform="translate(654.3 387) scale(0.93 1)" font-size="7.9" font-weight="bold" text-anchor="middle">40</text>
<line x1="687.3" y1="375" x2="687.3" y2="379.4" stroke="#000" stroke-width="1.3"/>
<text transform="translate(687.3 387) scale(0.93 1)" font-size="7.9" font-weight="bold" text-anchor="middle">50</text>
<line x1="720.3" y1="375" x2="720.3" y2="379.4" stroke="#000" stroke-width="1.3"/>
<text transform="translate(720.3 387) scale(0.93 1)" font-size="7.9" font-weight="bold" text-anchor="middle">60</text>
<text x="619.45" y="399.1" font-size="8" font-weight="bold" text-anchor="middle">time [d]</text>
<text transform="translate(493.5 307.05) rotate(-90)" font-size="8" font-weight="bold" text-anchor="middle">Phycocyanin [mg/mg DW]</text>
<text x="520.4" y="236.2" font-size="16" font-weight="bold">F</text>
<line x1="522.3" y1="299.4" x2="522.3" y2="308.6" stroke="#111" stroke-width="0.8"/>
<line x1="520.9" y1="299.4" x2="523.7" y2="299.4" stroke="#111" stroke-width="0.9"/>
<line x1="520.9" y1="308.6" x2="523.7" y2="308.6" stroke="#111" stroke-width="0.9"/>
<rect x="520.7" y="302.8" width="3.2" height="3.2" rx="0.6" fill="#0c0" stroke="#075" stroke-width="0.3"/>
<circle cx="522.3" cy="304.4" r="1.65" fill="#f00" stroke="#700" stroke-width="0.3"/>
<line x1="545.4" y1="321.5" x2="545.4" y2="344.6" stroke="#111" stroke-width="0.8"/>
<line x1="544" y1="321.5" x2="546.8" y2="321.5" stroke="#111" stroke-width="0.9"/>
<line x1="544" y1="344.6" x2="546.8" y2="344.6" stroke="#111" stroke-width="0.9"/>
<line x1="544" y1="325.5" x2="546.8" y2="325.5" stroke="#111" stroke-width="0.9"/>
<line x1="544" y1="338.4" x2="546.8" y2="338.4" stroke="#111" stroke-width="0.9"/>
<rect x="543.8" y="328.1" width="3.2" height="3.2" rx="0.6" fill="#0c0" stroke="#075" stroke-width="0.3"/>
<circle cx="545.4" cy="333.9" r="1.65" fill="#f00" stroke="#700" stroke-width="0.3"/>
<line x1="568.5" y1="304.4" x2="568.5" y2="317.3" stroke="#111" stroke-width="0.8"/>
<line x1="567.1" y1="304.4" x2="569.9" y2="304.4" stroke="#111" stroke-width="0.9"/>
<line x1="567.1" y1="317.3" x2="569.9" y2="317.3" stroke="#111" stroke-width="0.9"/>
<rect x="566.9" y="311.2" width="3.2" height="3.2" rx="0.6" fill="#0c0" stroke="#075" stroke-width="0.3"/>
<circle cx="568.5" cy="309.4" r="1.65" fill="#f00" stroke="#700" stroke-width="0.3"/>
<line x1="591.6" y1="309.1" x2="591.6" y2="324.8" stroke="#111" stroke-width="0.8"/>
<line x1="590.2" y1="309.1" x2="593" y2="309.1" stroke="#111" stroke-width="0.9"/>
<line x1="590.2" y1="324.8" x2="593" y2="324.8" stroke="#111" stroke-width="0.9"/>
<rect x="590" y="316.4" width="3.2" height="3.2" rx="0.6" fill="#0c0" stroke="#075" stroke-width="0.3"/>
<circle cx="591.6" cy="316.9" r="1.65" fill="#f00" stroke="#700" stroke-width="0.3"/>
<line x1="614.7" y1="313.9" x2="614.7" y2="325.8" stroke="#111" stroke-width="0.8"/>
<line x1="613.3" y1="313.9" x2="616.1" y2="313.9" stroke="#111" stroke-width="0.9"/>
<line x1="613.3" y1="325.8" x2="616.1" y2="325.8" stroke="#111" stroke-width="0.9"/>
<rect x="613.1" y="317.4" width="3.2" height="3.2" rx="0.6" fill="#0c0" stroke="#075" stroke-width="0.3"/>
<circle cx="614.7" cy="319.8" r="1.65" fill="#f00" stroke="#700" stroke-width="0.3"/>
<line x1="637.8" y1="307.2" x2="637.8" y2="329.4" stroke="#111" stroke-width="0.8"/>
<line x1="636.4" y1="307.2" x2="639.2" y2="307.2" stroke="#111" stroke-width="0.9"/>
<line x1="636.4" y1="329.4" x2="639.2" y2="329.4" stroke="#111" stroke-width="0.9"/>
<rect x="636.2" y="326" width="3.2" height="3.2" rx="0.6" fill="#0c0" stroke="#075" stroke-width="0.3"/>
<circle cx="637.8" cy="314.4" r="1.65" fill="#f00" stroke="#700" stroke-width="0.3"/>
<path d="M641.3 313.9 H644.5 V328.1 H641.3" fill="none" stroke="#333" stroke-width="1.0"/>
<text x="649.3" y="323.5" font-size="8.5" font-weight="bold" font-style="italic" fill="#111" text-anchor="middle">#</text>
<line x1="660.9" y1="304.1" x2="660.9" y2="317.6" stroke="#111" stroke-width="0.8"/>
<line x1="659.5" y1="304.1" x2="662.3" y2="304.1" stroke="#111" stroke-width="0.9"/>
<line x1="659.5" y1="317.6" x2="662.3" y2="317.6" stroke="#111" stroke-width="0.9"/>
<rect x="659.3" y="310.3" width="3.2" height="3.2" rx="0.6" fill="#0c0" stroke="#075" stroke-width="0.3"/>
<circle cx="660.9" cy="309.7" r="1.65" fill="#f00" stroke="#700" stroke-width="0.3"/>
<line x1="684" y1="299.4" x2="684" y2="314.4" stroke="#111" stroke-width="0.8"/>
<line x1="682.6" y1="299.4" x2="685.4" y2="299.4" stroke="#111" stroke-width="0.9"/>
<line x1="682.6" y1="314.4" x2="685.4" y2="314.4" stroke="#111" stroke-width="0.9"/>
<rect x="682.4" y="310.3" width="3.2" height="3.2" rx="0.6" fill="#0c0" stroke="#075" stroke-width="0.3"/>
<circle cx="684" cy="305" r="1.65" fill="#f00" stroke="#700" stroke-width="0.3"/>
<path d="M687.5 304.5 H690.7 V312.4 H687.5" fill="none" stroke="#333" stroke-width="1.0"/>
<text x="695.5" y="310.95" font-size="8.5" font-weight="bold" font-style="italic" fill="#111" text-anchor="middle">#</text>
<line x1="707.1" y1="323.8" x2="707.1" y2="348.8" stroke="#111" stroke-width="0.8"/>
<line x1="705.7" y1="323.8" x2="708.5" y2="323.8" stroke="#111" stroke-width="0.9"/>
<line x1="705.7" y1="348.8" x2="708.5" y2="348.8" stroke="#111" stroke-width="0.9"/>
<rect x="705.5" y="338.4" width="3.2" height="3.2" rx="0.6" fill="#0c0" stroke="#075" stroke-width="0.3"/>
<circle cx="707.1" cy="332.6" r="1.65" fill="#f00" stroke="#700" stroke-width="0.3"/>
<rect x="337.5" y="3.1" width="62" height="47.3" fill="none" stroke="#000" stroke-width="1.8"/>
<circle cx="344.3" cy="19.3" r="1.5" fill="#f00"/>
<rect x="342.8" y="32.4" width="3" height="3" fill="#0b0"/>
<text x="355.8" y="22.2" font-size="8.3" fill="#111">Control</text>
<text x="355.8" y="36.8" font-size="8.3" fill="#111">Irradiated</text>
</svg>
</body></html>
